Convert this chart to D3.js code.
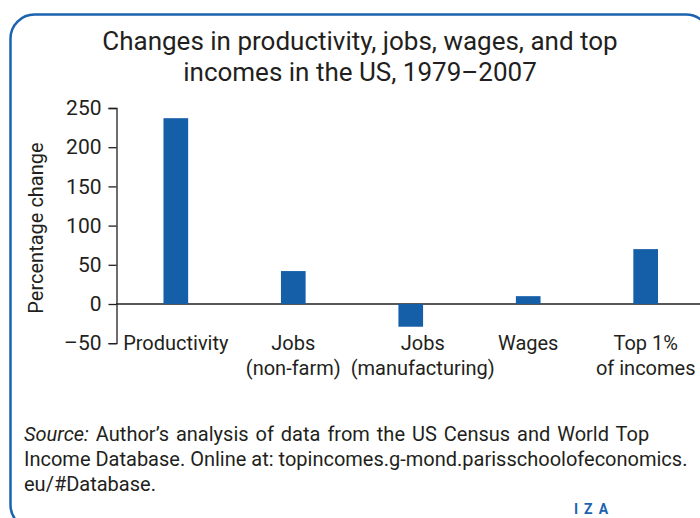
<!DOCTYPE html>
<html>
<head>
<meta charset="utf-8">
<script src="https://cdn.jsdelivr.net/npm/d3@7"></script>
<style>
  html, body { margin: 0; padding: 0; background: #fff; }
  svg { display: block; }
  text { font-family: Roboto, "Liberation Sans", sans-serif; fill: #231f20; }
</style>
</head>
<body>
<svg id="chart" width="700" height="518"></svg>
<script>
// ---- data ----
const categories = ["Productivity", "Jobs\n(non-farm)", "Jobs\n(manufacturing)", "Wages", "Top 1%\nof incomes"];
const values = [237, 42, -29, 10, 70];
const yTicks = [-50, 0, 50, 100, 150, 200, 250];
const titleLines = ["Changes in productivity, jobs, wages, and top", "incomes in the US, 1979\u20132007"];
const yLabel = "Percentage change";
const sourceLines = [
  ["Source:", " Author\u2019s analysis of data from the US Census and World Top"],
  ["", "Income Database. Online at: topincomes.g-mond.parisschoolofeconomics."],
  ["", "eu/#Database."]
];

// ---- drawing ----
const svg = d3.select("#chart");
const blue = "#155ea8";
const ink = "#231f20";

// rounded frame
svg.append("rect")
  .attr("x", 10.5).attr("y", 14.5)
  .attr("width", 699.5).attr("height", 514.5)
  .attr("rx", 24).attr("ry", 24)
  .attr("fill", "none").attr("stroke", "#1b63b0").attr("stroke-width", 2.5);

// title
svg.append("g").selectAll("text").data(titleLines).join("text")
  .attr("x", 360).attr("y", (d, i) => 50 + i * 31)
  .attr("text-anchor", "middle")
  .style("font-size", "26px")
  .text(d => d);

const y = d3.scaleLinear().domain([-50, 250]).range([343.2, 108]);
const x = d3.scaleBand().domain(categories).range([116.5, 705])
  .paddingInner(0.79).paddingOuter(0.4);

// zero line
svg.append("line")
  .attr("x1", 116).attr("x2", 700)
  .attr("y1", y(0)).attr("y2", y(0))
  .attr("stroke", ink).attr("stroke-width", 1.3);

// bars
svg.append("g").selectAll("rect").data(values).join("rect")
  .attr("x", (d, i) => x(categories[i]))
  .attr("width", x.bandwidth())
  .attr("y", d => y(Math.max(0, d)))
  .attr("height", d => Math.abs(y(d) - y(0)))
  .attr("fill", blue);

// y axis
const yAxis = d3.axisLeft(y).tickValues(yTicks).tickSize(8).tickPadding(7)
  .tickFormat(d => d < 0 ? "\u2013" + Math.abs(d) : d);
const gy = svg.append("g").attr("transform", "translate(116.5,0)").call(yAxis);
gy.select(".domain").attr("stroke", ink).attr("stroke-width", 1.3);
gy.selectAll(".tick line").attr("stroke", ink).attr("stroke-width", 1.3);
gy.selectAll(".tick text")
  .style("font-size", "21px").style("font-family", "Roboto, 'Liberation Sans', sans-serif")
  .attr("fill", ink);

// y label
svg.append("text")
  .attr("transform", "translate(43,228) rotate(-90)")
  .attr("text-anchor", "middle")
  .style("font-size", "20px")
  .text(yLabel);

// category labels
const labelNudge = { "Jobs\n(manufacturing)": 12 };
const labels = svg.append("g").selectAll("text").data(categories).join("text")
  .attr("text-anchor", "middle")
  .attr("transform", d => `translate(${x(d) + x.bandwidth() / 2 + (labelNudge[d] || 0)},350)`)
  .style("font-size", "20px");
labels.selectAll("tspan").data(d => d.split("\n")).join("tspan")
  .attr("x", 0).attr("dy", (d, i) => i === 0 ? 0 : 25)
  .text(d => d);

// source
const src = svg.append("g").selectAll("text").data(sourceLines).join("text")
  .attr("x", 24).attr("y", (d, i) => 441 + i * 25)
  .style("font-size", "20px")
  .style("word-spacing", (d, i) => i === 0 ? "2px" : "0px");
src.append("tspan").style("font-style", "italic").text(d => d[0]);
src.append("tspan").text(d => d[1]);

// IZA mark
svg.append("text")
  .attr("x", 574).attr("y", 514)
  .style("font-size", "14px").style("font-weight", "bold")
  .style("letter-spacing", "6px")
  .style("fill", "#1b63b0")
  .text("IZA");
</script>
</body>
</html>
